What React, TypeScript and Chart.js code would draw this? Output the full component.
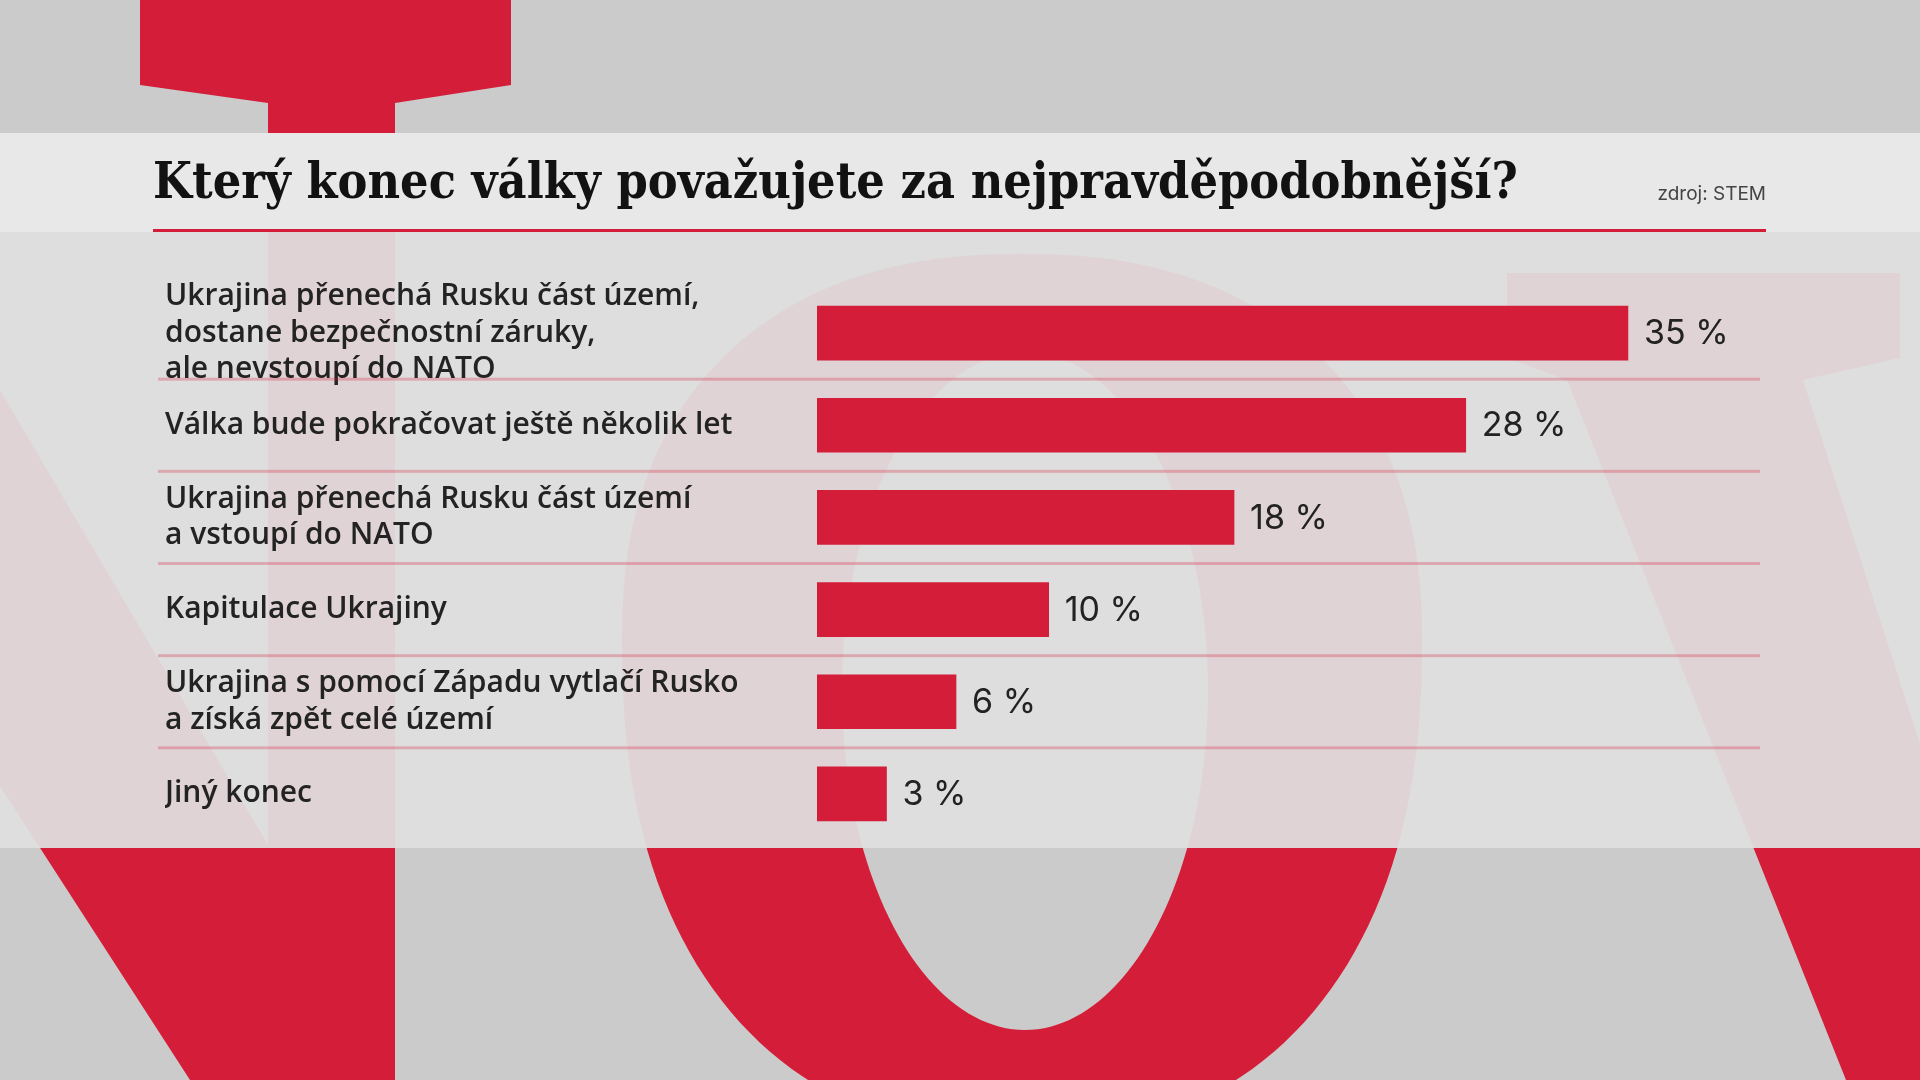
import React, { useEffect, useRef } from "react";
import { Chart, registerables } from "chart.js";

Chart.register(...registerables);

// ---- data ----
const TITLE = "Který konec války považujete za nejpravděpodobnější?";
const SOURCE = "zdroj: STEM";
const categories: string[][] = [
  ["Ukrajina přenechá Rusku část území,", "dostane bezpečnostní záruky,", "ale nevstoupí do NATO"],
  ["Válka bude pokračovat ještě několik let"],
  ["Ukrajina přenechá Rusku část území", "a vstoupí do NATO"],
  ["Kapitulace Ukrajiny"],
  ["Ukrajina s pomocí Západu vytlačí Rusko", "a získá zpět celé území"],
  ["Jiný konec"],
];
const values: number[] = [35, 28, 18, 10, 6, 3];
const VALUE_SUFFIX = " %";

const RED = "#d41d38";

function superHalf(
  ctx: CanvasRenderingContext2D,
  cx: number, cy: number, a: number, bTop: number, bBot: number, n: number
) {
  const steps = 180;
  for (let k = 0; k <= steps; k++) {
    const t = (k / steps) * Math.PI * 2;
    const c = Math.cos(t), s = Math.sin(t);
    const x = cx + a * Math.sign(c) * Math.pow(Math.abs(c), 2 / n);
    const b = s > 0 ? bBot : bTop;
    const y = cy + b * Math.sign(s) * Math.pow(Math.abs(s), 2 / n);
    if (k === 0) ctx.moveTo(x, y);
    else ctx.lineTo(x, y);
  }
  ctx.closePath();
}

const decorPlugin = {
  id: "decor",
  beforeDraw(chart: any) {
    const ctx: CanvasRenderingContext2D = chart.ctx;
    ctx.save();
    ctx.fillStyle = "#cbcbcb";
    ctx.fillRect(0, 0, 1920, 1080);

    ctx.fillStyle = RED;
    // left background letter
    ctx.beginPath();
    const left: [number, number][] = [
      [140, 0], [511, 0], [511, 85], [395, 103], [395, 1080], [190, 1080],
      [0, 786], [0, 390], [268, 845], [268, 103], [140, 85],
    ];
    left.forEach(([x, y], i) => (i ? ctx.lineTo(x, y) : ctx.moveTo(x, y)));
    ctx.closePath();
    ctx.fill();

    // "O"
    ctx.beginPath();
    superHalf(ctx, 1022, 640, 400, 386, 495, 2.3);
    superHalf(ctx, 1025, 691, 183, 339, 339, 2);
    ctx.fill("evenodd");

    // right background letter
    ctx.beginPath();
    const right: [number, number][] = [
      [1507, 273], [1900, 273], [1900, 358], [1803, 380], [1920, 744],
      [1920, 1080], [1846, 1080], [1567, 380], [1507, 358],
    ];
    right.forEach(([x, y], i) => (i ? ctx.lineTo(x, y) : ctx.moveTo(x, y)));
    ctx.closePath();
    ctx.fill();

    // translucent panel
    ctx.fillStyle = "rgba(223,223,223,0.94)";
    ctx.fillRect(0, 232, 1920, 616);

    // title band
    ctx.fillStyle = "#e8e8e8";
    ctx.fillRect(0, 133, 1920, 99);
    ctx.fillStyle = RED;
    ctx.fillRect(153, 229, 1613, 3);

    // title (slightly condensed serif look: fit width, stretch height)
    ctx.fillStyle = "#121212";
    ctx.textBaseline = "alphabetic";
    ctx.textAlign = "left";
    ctx.font = 'bold 44px "DejaVu Serif"';
    const w = ctx.measureText(TITLE).width;
    const size = (44 * 1365) / w;
    ctx.font = `bold ${size.toFixed(2)}px "DejaVu Serif"`;
    ctx.save();
    ctx.translate(153, 198);
    ctx.scale(1, 1.14);
    ctx.fillText(TITLE, 0, 0);
    ctx.restore();

    ctx.fillStyle = "#444";
    ctx.font = '19px Inter';
    ctx.textAlign = "right";
    ctx.fillText(SOURCE, 1766, 200);
    ctx.restore();
  },
  beforeDatasetsDraw(chart: any) {
    const ctx: CanvasRenderingContext2D = chart.ctx;
    const ys = chart.scales.y;
    ctx.save();
    ctx.fillStyle = "rgba(212,29,56,0.28)";
    for (let i = 0; i < values.length - 1; i++) {
      const y = (ys.getPixelForValue(i) + ys.getPixelForValue(i + 1)) / 2;
      ctx.fillRect(158, y - 1.5, 1602, 3);
    }
    ctx.restore();
  },
  afterDatasetsDraw(chart: any) {
    const ctx: CanvasRenderingContext2D = chart.ctx;
    const meta = chart.getDatasetMeta(0);
    ctx.save();
    ctx.fillStyle = "#222";
    ctx.font = '34px Inter';
    ctx.textAlign = "left";
    ctx.textBaseline = "middle";
    meta.data.forEach((bar: any, i: number) => {
      ctx.fillText(`${values[i]}${VALUE_SUFFIX}`, bar.x + 16, bar.y + 1);
    });
    ctx.restore();
  },
};

export default function App() {
  const ref = useRef<HTMLCanvasElement>(null);
  useEffect(() => {
    document.body.style.margin = "0";
    let chart: Chart | null = null;
    let cancelled = false;
    const fontsReady = (document as any).fonts
      ? Promise.all([
          (document as any).fonts.load('600 30px "Open Sans"'),
          (document as any).fonts.load('34px Inter'),
          (document as any).fonts.load('bold 44px "DejaVu Serif"'),
        ]).catch(() => null)
      : Promise.resolve(null);
    fontsReady.then(() => {
      if (cancelled || !ref.current) return;
      chart = new Chart(ref.current, {
        type: "bar",
        data: {
          labels: categories,
          datasets: [
            {
              data: values,
              backgroundColor: RED,
              borderWidth: 0,
              barThickness: 54,
            },
          ],
        },
        options: {
          indexAxis: "y",
          responsive: false,
          animation: false,
          devicePixelRatio: 1,
          layout: { padding: { left: 165, right: 160, top: 287, bottom: 240 } },
          plugins: {
            legend: { display: false },
            tooltip: { enabled: false },
            title: { display: false },
          },
          scales: {
            x: { display: false, min: 0, max: 40.7 },
            y: {
              type: "category",
              grid: { display: false },
              border: { display: false },
              ticks: {
                color: "#232323",
                crossAlign: "far",
                padding: 0,
                autoSkip: false,
                font: { family: '"Open Sans"', size: 30, weight: "600", lineHeight: 1.22 },
              },
              afterFit: (s: any) => {
                s.width = 652;
              },
            },
          },
        },
        plugins: [decorPlugin],
      } as any);
    });
    return () => {
      cancelled = true;
      if (chart) chart.destroy();
    };
  }, []);
  return (
    <div style={{ width: 1920, height: 1080 }}>
      <canvas ref={ref} width={1920} height={1080} style={{ display: "block" }} />
    </div>
  );
}
